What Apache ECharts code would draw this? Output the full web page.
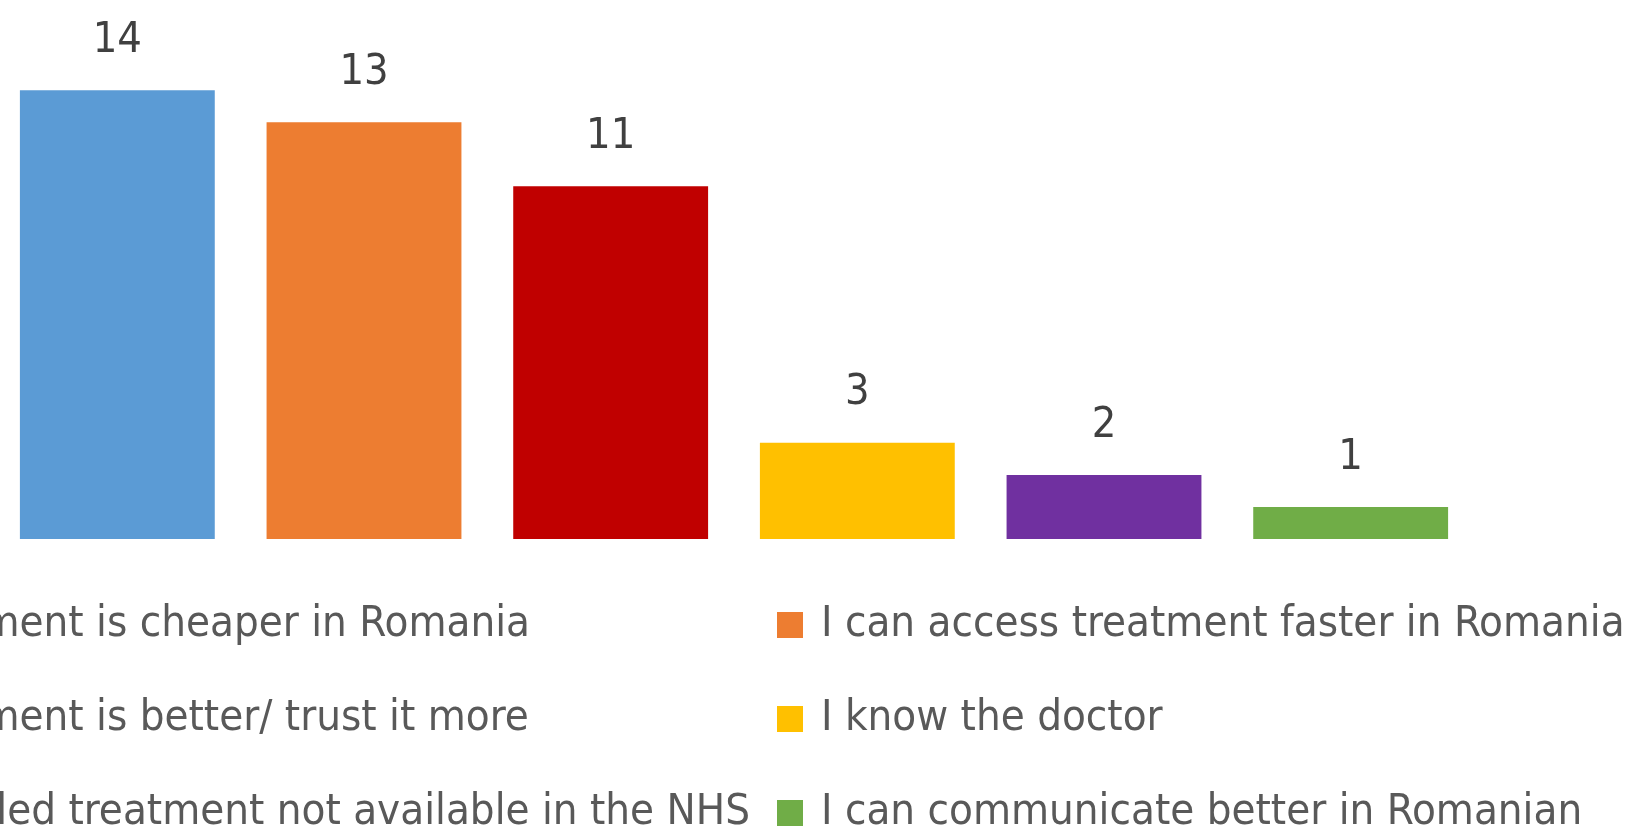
<!DOCTYPE html>
<html>
<head>
<meta charset="utf-8">
<script src="https://cdn.jsdelivr.net/npm/echarts@6/dist/echarts.min.js"></script>
<style>
html,body{margin:0;padding:0;background:#fff;}
#chart{width:1634px;height:829px;}
</style>
</head>
<body>
<div id="chart"></div>
<script>
var categories = [
  'Treatment is cheaper in Romania',
  'I can access treatment faster in Romania',
  'Treatment is better/ trust it more',
  'I know the doctor',
  'I needed treatment not available in the NHS',
  'I can communicate better in Romanian'
];
var values = [14, 13, 11, 3, 2, 1];
var colors = ['#5B9BD5', '#ED7D31', '#C00000', '#FFC000', '#7030A0', '#70AD47'];
var leftLegendItems = [categories[0], categories[2], categories[4]];
var rightLegendItems = [categories[1], categories[3], categories[5]];

var FONT = '"Liberation Sans Narrow", "DejaVu Sans Condensed", "Liberation Sans", sans-serif';

var cv = document.createElement('canvas').getContext('2d');
function measure(t, size) { cv.font = size + 'px ' + FONT; return cv.measureText(t).width; }
var legendFont = 48 * 804 / measure(categories[1], 48);
var textGap = 18;
var markerRightLeft = 777;
var leftColLeft = 750 - measure(categories[4], legendFont) - 26 - textGap;

var series = categories.map(function (name, i) {
  return {
    name: name,
    type: 'bar',
    stack: 'all',
    barCategoryGap: '21%',
    itemStyle: { color: colors[i] },
    label: {
      show: true, position: 'top', distance: 28,
      color: '#404040', fontSize: 43, fontFamily: FONT
    },
    data: values.map(function (v, j) { return j === i ? v : '-'; })
  };
});

function legendCfg(items, left) {
  return {
    orient: 'vertical', left: left, top: 600, height: 400, padding: 0,
    itemWidth: 26, itemHeight: 26, itemGap: 44,
    icon: 'rect', selectedMode: false,
    textStyle: { color: '#595959', fontSize: legendFont, fontFamily: FONT,
                 lineHeight: 50, padding: [0, 0, 0, textGap - 5] },
    data: items
  };
}

var chart = echarts.init(document.getElementById('chart'), null, { renderer: 'canvas' });
chart.setOption({
  animation: false,
  backgroundColor: '#ffffff',
  grid: { left: -6, width: 1480, top: 26, bottom: 290, containLabel: false, outerBoundsMode: 'none' },
  legend: [legendCfg(leftLegendItems, leftColLeft), legendCfg(rightLegendItems, markerRightLeft)],
  xAxis: { type: 'category', data: categories, show: false },
  yAxis: { type: 'value', min: 0, max: 16, show: false },
  series: series
});
</script>
</body>
</html>
